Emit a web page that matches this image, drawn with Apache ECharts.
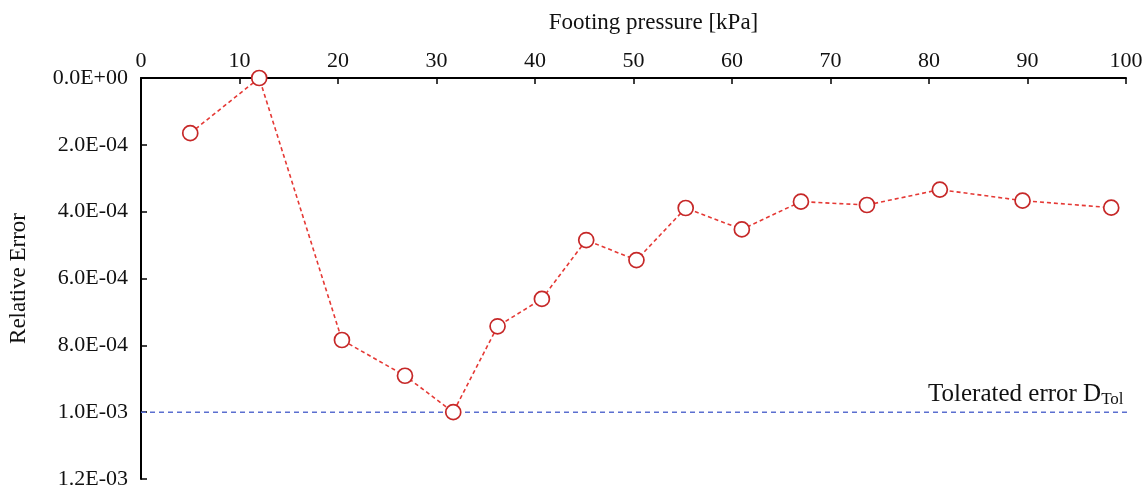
<!DOCTYPE html>
<html>
<head>
<meta charset="utf-8">
<script src="https://cdn.jsdelivr.net/npm/echarts@6/dist/echarts.min.js"></script>
<style>
  html, body { margin: 0; padding: 0; background: #fff; }
  #chart { width: 1145px; height: 487px; }
</style>
</head>
<body>
<div id="chart"></div>
<script>
// presion de zapata [kPa] y error relativo
var pressure = [5.0, 12.0, 20.4, 26.8, 31.7, 36.2, 40.7, 45.2, 50.3, 55.3, 61.0, 67.0, 73.7, 81.1, 89.5, 98.5]
var relError = [1.65e-4, 0, 7.84e-4, 8.91e-4, 1.0e-3, 7.43e-4, 6.61e-4, 4.85e-4, 5.45e-4, 3.89e-4, 4.53e-4, 3.70e-4, 3.80e-4, 3.34e-4, 3.67e-4, 3.88e-4]
// error tolerado, de extremo a extremo del eje x
var tolX = [0, 100.7]
var tolerance = 1.0e-3

var font = 'Liberation Serif'
var textColor = '#111'

// formato tipo 1.0E-03
function sci(v) {
  var s = v.toExponential(1).split('e')
  var exp = parseInt(s[1], 10)
  var sign = exp < 0 ? '-' : '+'
  var abs = Math.abs(exp)
  return s[0] + 'E' + sign + (abs < 10 ? '0' + abs : abs)
}

var chart = echarts.init(document.getElementById('chart'))

var option = {
  backgroundColor: '#fff',
  animation: false,
  grid: {
    left: 141,
    right: 19,
    top: 78,
    bottom: 8,
    outerBoundsMode: 'none'
  },
  xAxis: {
    type: 'value',
    position: 'top',
    min: 0,
    max: 100,
    interval: 10,
    name: 'Footing pressure [kPa]',
    nameLocation: 'middle',
    nameGap: 44,
    nameTextStyle: { fontFamily: font, fontSize: 23, color: textColor, padding: [0, 0, 0, 40] },
    axisLine: { show: true, lineStyle: { color: '#000', width: 2 } },
    axisTick: { show: true, inside: true, length: 6, lineStyle: { color: '#000', width: 1.5 } },
    axisLabel: { fontFamily: font, fontSize: 22, color: textColor, margin: 6 },
    splitLine: { show: false }
  },
  yAxis: {
    type: 'value',
    inverse: true,
    min: 0,
    max: 0.0012,
    interval: 0.0002,
    name: 'Relative Error',
    nameLocation: 'middle',
    nameGap: 111,
    nameTextStyle: { fontFamily: font, fontSize: 23, color: textColor },
    axisLine: { show: true, lineStyle: { color: '#000', width: 2 } },
    axisTick: { show: true, inside: true, length: 6, lineStyle: { color: '#000', width: 1.5 } },
    axisLabel: { fontFamily: font, fontSize: 22, color: textColor, margin: 13, formatter: sci },
    splitLine: { show: false }
  },
  series: [
    {
      name: 'Tolerated error',
      type: 'line',
      data: tolX.map(function (x) { return [x, tolerance] }),
      symbol: 'none',
      silent: true,
      clip: false,
      lineStyle: { color: '#5b6fd0', width: 1.5, type: [5, 4] },
      z: 1,
      endLabel: {
        show: true,
        distance: 0,
        offset: [-200, -18],
        formatter: '{a|Tolerated error D}{b|Tol}',
        rich: {
          a: { fontFamily: font, fontSize: 25, color: textColor },
          b: { fontFamily: font, fontSize: 17, color: textColor, padding: [10, 0, 0, 0] }
        }
      }
    },
    {
      name: 'Relative Error',
      type: 'line',
      data: pressure.map(function (p, i) { return [p, relError[i]] }),
      symbol: 'circle',
      symbolSize: 15,
      showAllSymbol: true,
      lineStyle: { color: '#e53935', width: 1.6, type: [4, 3] },
      itemStyle: { color: '#fff', borderColor: '#c62828', borderWidth: 1.7 },
      z: 3
    }
  ]
}

chart.setOption(option)
</script>
</body>
</html>
